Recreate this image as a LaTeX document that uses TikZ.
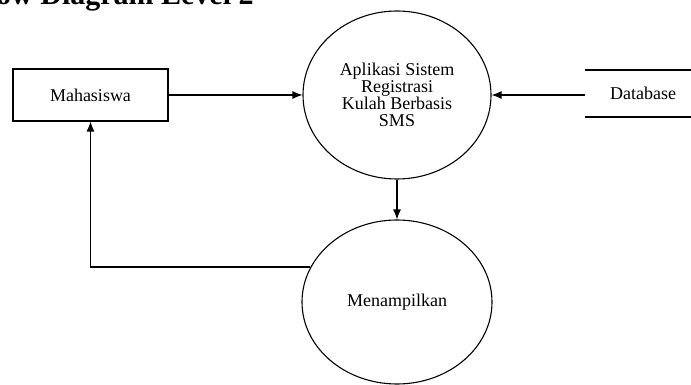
\documentclass[tikz,border=0pt]{standalone}
\usepackage{fontspec}
\setmainfont{Liberation Serif}
\usetikzlibrary{shapes.geometric,arrows.meta}
\tikzset{
  entity/.style={draw,line width=1.1pt,minimum width=155pt,minimum height=52pt,inner sep=0pt},
  proses/.style={draw,ellipse,line width=1.1pt,inner sep=0pt,align=center},
  flow/.style={-{Latex[length=10pt,width=8pt]},line width=1.1pt},
  label/.style={font=\fontsize{18}{17}\selectfont}
}
\begin{document}
\begin{tikzpicture}[x=1pt,y=-1pt]
\useasboundingbox (0,0) rectangle (691,385);
\clip (0,0) rectangle (691,385);
% judul
\node[anchor=base west,inner sep=0pt,font=\bfseries\fontsize{30}{30}\selectfont] (judul) at (-4,5) {ow Diagram Level 2};
% entitas, proses, data store
\node[entity,label] (mhs) at (90.5,95) {Mahasiswa};
\node[proses,label,minimum width=188pt,minimum height=168pt] (sis) at (397,95)
  {Aplikasi Sistem\\Registrasi\\Kulah Berbasis\\SMS};
\node[proses,label,minimum width=190pt,minimum height=164pt] (tampil) at (397,302) {Menampilkan};
\node[label,inner sep=0pt] (db) at (643,93) {Database};
\path
(585,70) coordinate (DBa)
(700,70) coordinate (DBb)
(585,117) coordinate (DBc)
(700,117) coordinate (DBd)
(585,95) coordinate (DBin);
\draw[line width=2.2pt] (DBa)--(DBb) (DBc)--(DBd);
% aliran data
\draw[flow] (mhs.east)--(mhs.east-|sis.west);
\draw[flow] (DBin)--(sis.east);
\draw[flow] (sis.south)--(tampil.north);
\draw[flow] (tampil.158)-|(mhs.south);
\end{tikzpicture}
\end{document}
